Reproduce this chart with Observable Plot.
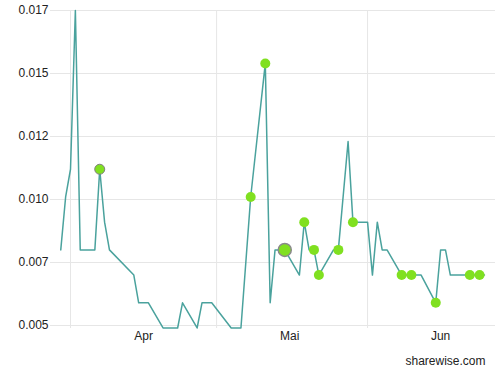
<!DOCTYPE html>
<html><head><meta charset="utf-8">
<script src="https://cdn.jsdelivr.net/npm/d3@7"></script>
<script src="https://cdn.jsdelivr.net/npm/@observablehq/plot@0.6"></script>
<style>body{margin:0;background:#fff}</style>
</head><body><div id="chart"></div>
<script>
const dates = ["2013-03-30","2013-03-31","2013-04-01","2013-04-02","2013-04-03","2013-04-06","2013-04-07","2013-04-08","2013-04-09","2013-04-14","2013-04-15","2013-04-17","2013-04-20","2013-04-23","2013-04-24","2013-04-27","2013-04-28","2013-04-30","2013-05-04","2013-05-06","2013-05-08","2013-05-11","2013-05-12","2013-05-13","2013-05-15","2013-05-18","2013-05-19","2013-05-20","2013-05-21","2013-05-22","2013-05-25","2013-05-26","2013-05-28","2013-05-29","2013-06-01","2013-06-02","2013-06-03","2013-06-04","2013-06-05","2013-06-08","2013-06-10","2013-06-12","2013-06-15","2013-06-16","2013-06-17","2013-06-18","2013-06-22","2013-06-24","2013-06-25"];
const prices = [0.0080,0.0101,0.0112,0.0175,0.0080,0.0080,0.0112,0.0091,0.0080,0.0070,0.0059,0.0059,0.0049,0.0049,0.0059,0.0049,0.0059,0.0059,0.0049,0.0049,0.0101,0.0154,0.0059,0.0080,0.0080,0.0070,0.0091,0.0080,0.0080,0.0070,0.0080,0.0080,0.0123,0.0091,0.0091,0.0070,0.0091,0.0080,0.0080,0.0070,0.0070,0.0070,0.0059,0.0080,0.0080,0.0070,0.0070,0.0070,0.0070];
const markerDates = ["2013-05-08","2013-05-11","2013-05-19","2013-05-21","2013-05-22","2013-05-26","2013-05-29","2013-06-08","2013-06-10","2013-06-15","2013-06-22","2013-06-24"];
const outlinedMarkerDates = ["2013-04-07"];
const bigMarkerDates = ["2013-05-15"];
const yTicks = [0.005,0.0075,0.01,0.0125,0.015,0.0175];
const yTickLabels = ["0.005","0.007","0.010","0.012","0.015","0.017"];
const monthStarts = ["2013-04-01","2013-05-01","2013-06-01"];
const monthLabelDates = ["2013-04-16","2013-05-16","2013-06-16"];
const monthLabels = ["Apr","Mai","Jun"];

const DAY = 86400000;
const t0 = Date.UTC(2013,3,1);
const data = dates.map((d,i)=>({date:new Date(d), price:prices[i]}));
const byDate = new Map(data.map(o=>[o.date.getTime(), o]));
const pick = arr => arr.map(s => byDate.get(new Date(s).getTime()));
const labelIdx = new Map(monthLabelDates.map((s,i)=>[new Date(s).getTime(), i]));

const plot = Plot.plot({
  width: 504, height: 378,
  marginTop: 10, marginBottom: 50, marginLeft: 50, marginRight: 9,
  style: {fontFamily: "'Liberation Sans', Arial, sans-serif", fontSize: "12px", color: "#222", background: "#fff"},
  x: {type: "utc", domain: [new Date(t0 - 4.107*DAY), new Date(t0 + 87.27*DAY)], axis: null},
  y: {domain: [0.00488, 0.0175], axis: null},
  marks: [
    Plot.gridY(yTicks, {stroke: "#e6e6e6", strokeOpacity: 1}),
    Plot.gridX(monthStarts.map(s=>new Date(s)), {stroke: "#e6e6e6", strokeOpacity: 1}),
    Plot.axisY(yTicks, {tickSize: 0, tickPadding: 2, fontSize: 12, label: null, tickFormat: d => yTickLabels[yTicks.indexOf(d)]}),
    Plot.axisX(monthLabelDates.map(s=>new Date(s)), {tickSize: 0, tickPadding: 3, fontSize: 12, label: null, tickFormat: d => monthLabels[labelIdx.get(d.getTime())]}),
    Plot.line(data, {x: "date", y: "price", stroke: "#4aa29d", strokeWidth: 1.5}),
    Plot.dot(pick(markerDates), {x: "date", y: "price", r: 5, fill: "#80e020"}),
    Plot.dot(pick(outlinedMarkerDates), {x: "date", y: "price", r: 5, fill: "#80e020", stroke: "#808080", strokeWidth: 1}),
    Plot.dot(pick(bigMarkerDates), {x: "date", y: "price", r: 6.5, fill: "#80e020", stroke: "#8a8a8a", strokeWidth: 1.5}),
    Plot.text(["sharewise.com"], {frameAnchor: "bottom-right", dx: -10, dy: 36, textAnchor: "end", fontSize: 12, fill: "#222"})
  ]
});
document.getElementById("chart").appendChild(plot);
</script>
</body></html>
